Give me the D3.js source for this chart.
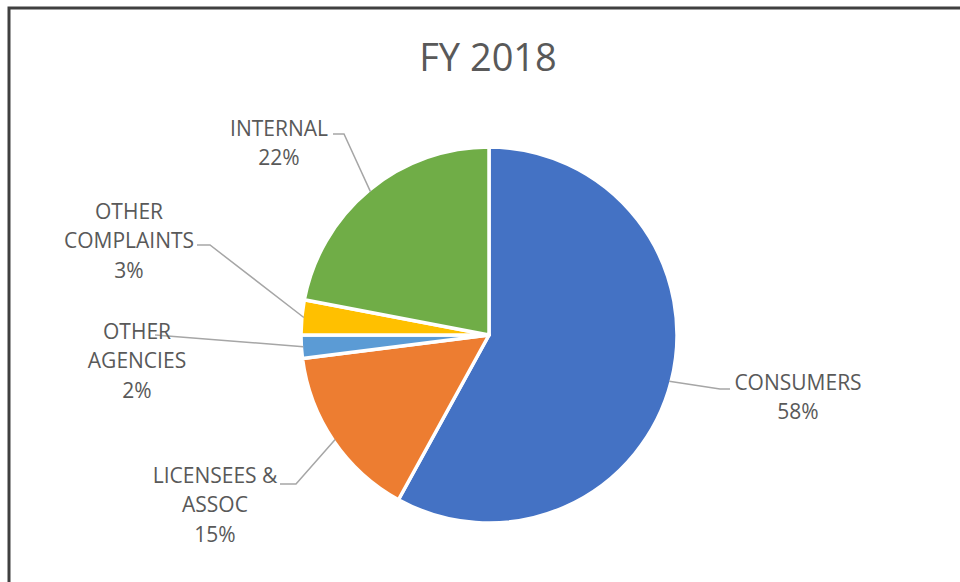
<!DOCTYPE html>
<html>
<head>
<meta charset="utf-8">
<script src="https://cdn.jsdelivr.net/npm/d3@7"></script>
<style>
  body { margin: 0; background: #fff; }
  svg { display: block; }
</style>
</head>
<body>
<div class="chart"></div>
<script>
var width = 960;
var height = 582;

// data
var categories = ['CONSUMERS', 'LICENSEES & ASSOC', 'OTHER AGENCIES', 'OTHER COMPLAINTS', 'INTERNAL'];
var values = [58, 15, 2, 3, 22];
var colors = ['#4472C4', '#ED7D31', '#5B9BD5', '#FFC000', '#70AD47'];
var labelLines = [
	['CONSUMERS'],
	['LICENSEES &', 'ASSOC'],
	['OTHER', 'AGENCIES'],
	['OTHER', 'COMPLAINTS'],
	['INTERNAL']
];

// layout: label block centre x, first line centre y, leader elbow and end (relative to pie centre)
var labelLayout = [
	{ x: 309, y: 47, elbow: [231, 54], end: [241, 54] },
	{ x: -274, y: 140, elbow: [-193, 149], end: [-209, 149] },
	{ x: -352, y: -4, elbow: null, end: [-334, 0] },
	{ x: -360, y: -124, elbow: [-279, -90], end: [-292, -90] },
	{ x: -210, y: -207, elbow: [-145, -201], end: [-156, -201] }
];

var cx = 489, cy = 335, radius = 188;

var svg = d3.select('.chart')
	.append('svg')
	.attr('width', width)
	.attr('height', height);

// frame
svg.append('rect')
	.attr('x', 9)
	.attr('y', 8)
	.attr('width', width + 20)
	.attr('height', height + 20)
	.attr('fill', 'none')
	.attr('stroke', '#404040')
	.attr('stroke-width', 3);

svg.append('text')
	.attr('x', 488)
	.attr('y', 71)
	.attr('text-anchor', 'middle')
	.attr('font-family', 'Open Sans')
	.attr('font-size', '38px')
	.attr('fill', '#595959')
	.text('FY 2018');

var data = categories.map(function(c, i){
	return { name: c, value: values[i], color: colors[i], lines: labelLines[i], layout: labelLayout[i] };
});

var pie = d3.pie()
	.sort(null)
	.value(function(d){ return d.value; });

var arc = d3.arc()
	.innerRadius(0)
	.outerRadius(radius);

var arcs = pie(data);

var g = svg.append('g')
	.attr('transform', 'translate(' + cx + ',' + cy + ')');

g.selectAll('.slice')
	.data(arcs)
	.enter().append('path')
	.attr('class', 'slice')
	.attr('d', arc)
	.attr('fill', function(d){ return d.data.color; })
	.attr('stroke', '#fff')
	.attr('stroke-width', 3.5)
	.attr('stroke-linejoin', 'round');

// leader lines
g.selectAll('.leader')
	.data(arcs)
	.enter().append('polyline')
	.attr('class', 'leader')
	.attr('fill', 'none')
	.attr('stroke', '#A6A6A6')
	.attr('stroke-width', 1.5)
	.attr('points', function(d){
		var a = (d.startAngle + d.endAngle) / 2;
		var p = [Math.sin(a) * (radius - 2), -Math.cos(a) * (radius - 2)];
		var pts = [p];
		if (d.data.layout.elbow) pts.push(d.data.layout.elbow);
		pts.push(d.data.layout.end);
		return pts.map(function(q){ return q.join(','); }).join(' ');
	});

// labels
var labels = g.selectAll('.label')
	.data(arcs)
	.enter().append('text')
	.attr('class', 'label')
	.attr('text-anchor', 'middle')
	.attr('font-family', 'Open Sans')
	.attr('font-size', '21px')
	.attr('fill', '#595959');

labels.each(function(d){
	var t = d3.select(this);
	var lines = d.data.lines.concat([d.data.value + '%']);
	lines.forEach(function(l, i){
		t.append('tspan')
			.attr('x', d.data.layout.x)
			.attr('y', d.data.layout.y + i * 29.5 + 7.5)
			.text(l);
	});
});
</script>
</body>
</html>
